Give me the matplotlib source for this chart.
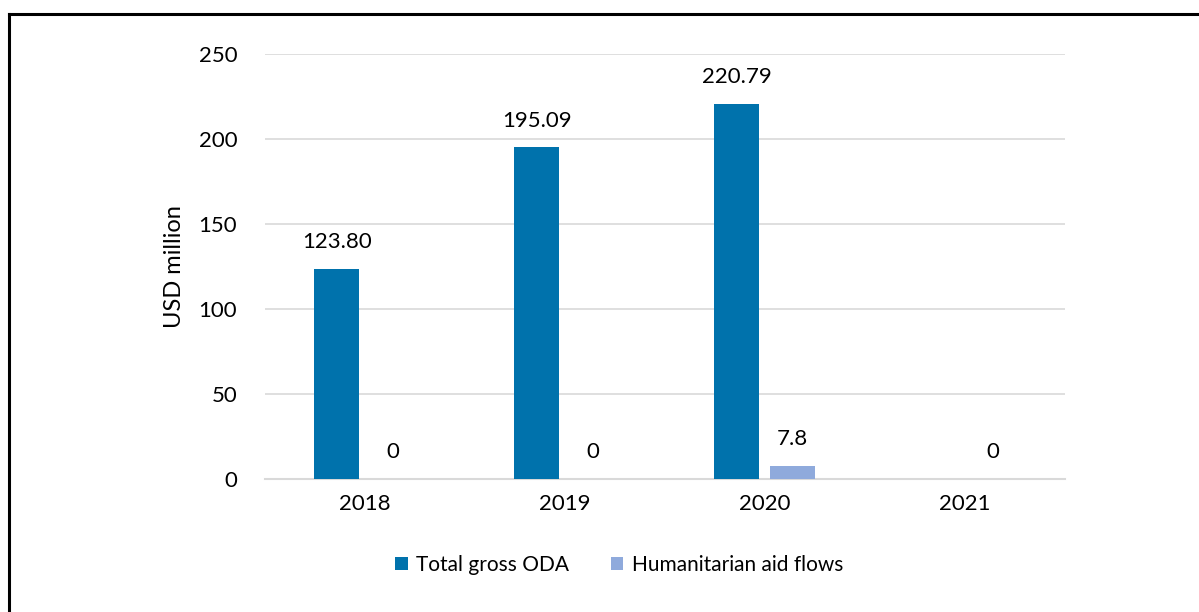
import numpy as np
import matplotlib.pyplot as plt
from matplotlib.lines import Line2D

years = ['2018', '2019', '2020', '2021']
total_oda = [123.80, 195.09, 220.79, np.nan]
humanitarian = [0, 0, 7.8, 0]
total_labels = ['123.80', '195.09', '220.79', '']
hum_labels = ['0', '0', '7.8', '0']

plt.rcParams['font.family'] = ['Lato', 'DejaVu Sans']
fs = 16

fig = plt.figure(figsize=(11.99, 6.12), dpi=100)
ax = fig.add_axes([0.221, 0.2173, 0.667, 0.6945])

x = np.arange(len(years))
w = 0.225
b1 = ax.bar(x - 0.14, total_oda, w, color='#0072AC', label='Total gross ODA', zorder=3)
b2 = ax.bar(x + 0.14, humanitarian, w, color='#8FAADC', label='Humanitarian aid flows', zorder=3)

for rect, lab in zip(b1, total_labels):
    if lab:
        ax.annotate(lab, (rect.get_x() + rect.get_width() / 2, rect.get_height()),
                    xytext=(0, 12), textcoords='offset points', ha='center', va='bottom', fontsize=fs)
for rect, lab in zip(b2, hum_labels):
    ax.annotate(lab, (rect.get_x() + rect.get_width() / 2, rect.get_height()),
                xytext=(0, 12), textcoords='offset points', ha='center', va='bottom', fontsize=fs)

ax.set_xlim(-0.5, 3.5)
ax.set_ylim(0, 250)
ax.set_yticks([0, 50, 100, 150, 200, 250])
ax.set_xticks(x)
ax.set_xticklabels(years)
ax.tick_params(axis='both', length=0, labelsize=fs, pad=11)
ax.tick_params(axis='y', pad=20)
ax.yaxis.grid(True, color='#D9D9D9', linewidth=1.2, zorder=0)
for s in ['top', 'right', 'left']:
    ax.spines[s].set_visible(False)
ax.spines['bottom'].set_color('#D9D9D9')
ax.spines['bottom'].set_linewidth(1.5)
ax.set_ylabel('USD million', fontsize=17, labelpad=10)

ax.legend(loc='upper center', bbox_to_anchor=(0.443, -0.135), ncol=2, frameon=False,
          fontsize=15, handlelength=0.6, handleheight=0.6, handletextpad=0.4, columnspacing=2.0)

# frame around the figure (cut off at right and bottom)
fig.add_artist(Line2D([9 / 1199, 9 / 1199], [0, 1 - 14 / 612], transform=fig.transFigure,
                      color='black', linewidth=2.2))
fig.add_artist(Line2D([9 / 1199, 1], [1 - 14 / 612, 1 - 14 / 612], transform=fig.transFigure,
                      color='black', linewidth=2.2))

fig.savefig('out.png', dpi=100)
